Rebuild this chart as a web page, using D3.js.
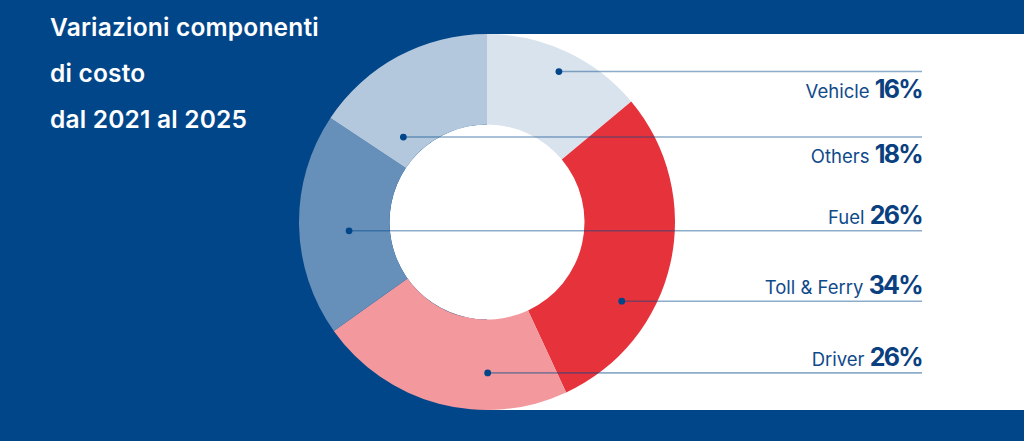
<!DOCTYPE html>
<html>
<head>
<meta charset="utf-8">
<script src="https://cdn.jsdelivr.net/npm/d3@7"></script>
<style>
    html, body {margin: 0; padding: 0; background: #02468a; overflow: hidden;}
    text {font-family: "Inter", "Lato", sans-serif;}
</style>
</head>
<body>
<div id="chart"></div>
<script>
// Chart values
var titleLines = ["Variazioni componenti", "di costo", "dal 2021 al 2025"]
var categories = ["Vehicle", "Toll & Ferry", "Driver", "Fuel", "Others"]
var sliceShares = [16.7, 35, 26.5, 23, 18.8]
var variationPct = [16, 34, 26, 26, 18]
var colors = ["#d9e3ee", "#e6323b", "#f3999d", "#6690b9", "#b3c8dd"]

window.onload = function(){
    var width = 1024,
        height = 441;
    var cx = 487, cy = 222,
        outerR = 188, innerR = 97.5;
    var lineEnd = 922;

    // where each leader dot sits inside its slice: [angle fraction, ring fraction, label below line]
    var anchors = {
        "Vehicle": [0.51, 0.765, true],
        "Others": [0.21, 0.24, true],
        "Fuel": [0.46, 0.45, false],
        "Toll & Ferry": [0.67, 0.65, false],
        "Driver": [0.31, 0.59, false]
    }

    var svg = d3.select("#chart")
                .append("svg")
                .attr("width", width)
                .attr("height", height)

    svg.append("rect")
        .attr("width", width)
        .attr("height", height)
        .attr("fill", "#02468a")

    // white panel behind the right half of the donut
    svg.append("rect")
        .attr("x", cx)
        .attr("y", cy - outerR)
        .attr("width", width - cx)
        .attr("height", outerR * 2)
        .attr("fill", "#ffffff")

    // Title
    svg.append("g")
        .selectAll("text")
        .data(titleLines)
        .enter()
        .append("text")
        .attr("x", 50)
        .attr("y", (d, i) => 36 + i * 46)
        .attr("fill", "#ffffff")
        .style("font-size", "24.5px")
        .style("font-weight", 600)
        .style("letter-spacing", "0.2px")
        .text(d => d)

    var data = categories.map(function(c, i){
        return {name: c, share: sliceShares[i], pct: variationPct[i], color: colors[i]}
    })

    var pie = d3.pie()
                .sort(null)
                .value(d => d.share)
    var arcs = pie(data)

    var arc = d3.arc()
                .innerRadius(innerR)
                .outerRadius(outerR)

    var donut = svg.append("g")
                   .attr("transform", "translate(" + cx + "," + cy + ")")

    // white hole in the middle
    donut.append("circle")
        .attr("r", innerR)
        .attr("fill", "#ffffff")

    donut.selectAll("path")
        .data(arcs)
        .enter()
        .append("path")
        .attr("d", arc)
        .attr("fill", d => d.data.color)

    // leader dots and lines
    arcs.forEach(function(a){
        var an = anchors[a.data.name]
        var angle = a.startAngle + (a.endAngle - a.startAngle) * an[0]
        var rad = innerR + (outerR - innerR) * an[1]
        a.dot = [cx + rad * Math.sin(angle), cy - rad * Math.cos(angle)]
        a.below = an[2]
    })

    var notes = svg.append("g")

    notes.selectAll("line")
        .data(arcs)
        .enter()
        .append("line")
        .attr("x1", d => d.dot[0])
        .attr("x2", lineEnd)
        .attr("y1", d => d.dot[1])
        .attr("y2", d => d.dot[1])
        .attr("stroke", "#02468a")
        .attr("stroke-opacity", 0.45)
        .attr("stroke-width", 1.6)

    notes.selectAll("circle")
        .data(arcs)
        .enter()
        .append("circle")
        .attr("cx", d => d.dot[0])
        .attr("cy", d => d.dot[1])
        .attr("r", 3.4)
        .attr("fill", "#02468a")

    var labels = notes.selectAll("text")
        .data(arcs)
        .enter()
        .append("text")
        .attr("x", lineEnd)
        .attr("y", d => d.below ? d.dot[1] + 26 : d.dot[1] - 7)
        .attr("text-anchor", "end")
        .attr("fill", "#0f4a8a")

    labels.append("tspan")
        .style("font-size", "18.5px")
        .text(d => d.data.name + " ")

    labels.append("tspan")
        .style("font-size", "25px")
        .style("font-weight", 700)
        .style("letter-spacing", "-1.7px")
        .attr("fill", "#0a3f80")
        .text(d => d.data.pct + "%")
}
</script>
</body>
</html>
